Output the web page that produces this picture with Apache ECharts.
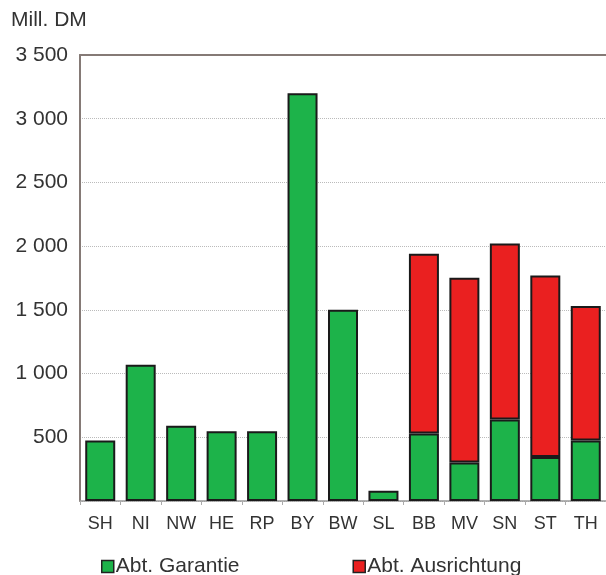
<!DOCTYPE html>
<html>
<head>
<meta charset="utf-8">
<script src="https://cdn.jsdelivr.net/npm/echarts@6/dist/echarts.min.js"></script>
<style>
html,body{margin:0;padding:0;background:#fff;}
#c{width:606px;height:575px;}
</style>
</head>
<body>
<div id="c"></div>
<script>
const categories = ['SH','NI','NW','HE','RP','BY','BW','SL','BB','MV','SN','ST','TH'];
const garantie    = [475, 1070, 590, 548, 548, 3200, 1500, 80, 530, 302, 640, 345, 475];
const ausrichtung = [0, 0, 0, 0, 0, 0, 0, 0, 1410, 1450, 1380, 1425, 1055];
const yTicks = [0, 500, 1000, 1500, 2000, 2500, 3000, 3500];
const seriesNames = ['Abt. Garantie', 'Abt. Ausrichtung'];

const fmt = v => v === 0 ? '' : String(v).replace(/\B(?=(\d{3})+(?!\d))/g, ' ');
const font = 'Liberation Sans, Arial, sans-serif';

const chart = echarts.init(document.getElementById('c'), null, {renderer: 'canvas'});
chart.setOption({
  backgroundColor: '#ffffff',
  animation: false,
  grid: {left: 80, right: 0, top: 55, bottom: 74},
  graphic: [{
    type: 'text', left: 11, top: 10,
    style: {text: 'Mill. DM', font: '21px ' + font, fill: '#333'}
  }],
  legend: {
    left: 96, top: 551,
    itemWidth: 12, itemHeight: 12, itemGap: 113,
    icon: 'rect',
    textStyle: {fontFamily: font, fontSize: 21, color: '#333', padding: [0,0,0,-3]},
    data: seriesNames.map(n => ({name: n, itemStyle: {borderColor: '#222', borderWidth: 1.5}}))
  },
  xAxis: [{
    type: 'category', data: categories,
    axisLine: {lineStyle: {color: '#999', width: 1.5}},
    axisTick: {show: true, length: 4, lineStyle: {color: '#aaa'}},
    axisLabel: {fontFamily: font, fontSize: 18, color: '#333', margin: 14}
  }, {
    type: 'category', data: categories, position: 'top',
    axisLine: {show: true, lineStyle: {color: '#857a76', width: 2}},
    axisTick: {show: false}, axisLabel: {show: false}
  }],
  yAxis: {
    type: 'value', min: 0, max: 3500, interval: 500,
    axisLine: {show: true, lineStyle: {color: '#857a76', width: 2}},
    axisTick: {show: false},
    axisLabel: {fontFamily: font, fontSize: 21, color: '#333', margin: 12, formatter: fmt},
    splitLine: {show: true, lineStyle: {color: '#bbb', type: 'dotted', width: 1}}
  },
  series: [{
    name: seriesNames[0], type: 'bar', stack: 'a', barWidth: 30,
    data: garantie,
    itemStyle: {color: '#1db34a', borderColor: '#1a1a1a', borderWidth: 2}
  }, {
    name: seriesNames[1], type: 'bar', stack: 'a', barWidth: 30,
    data: ausrichtung.map(v => v === 0 ? null : v),
    itemStyle: {color: '#ea2020', borderColor: '#1a1a1a', borderWidth: 2}
  }]
});
</script>
</body>
</html>
